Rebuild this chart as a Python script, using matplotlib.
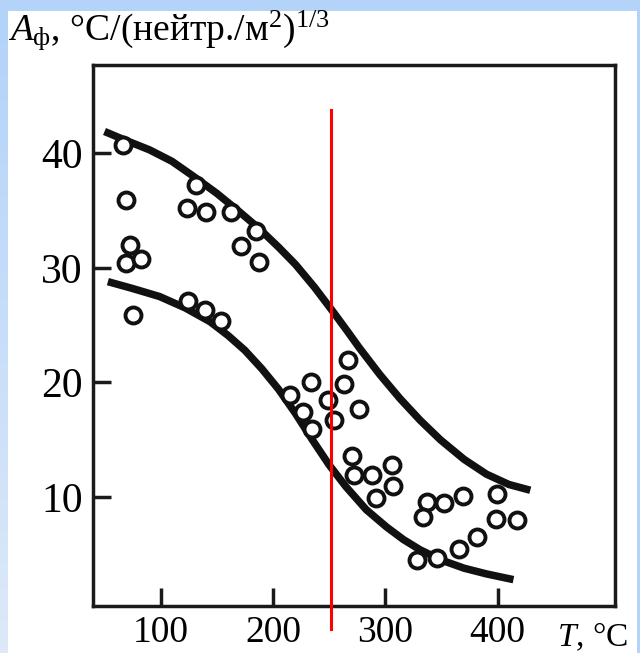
import matplotlib
matplotlib.use('Agg')
import matplotlib.pyplot as plt
import numpy as np
from matplotlib.patches import Rectangle
from matplotlib.colors import LinearSegmentedColormap

plt.rcParams['font.family'] = ['Liberation Serif', 'DejaVu Serif']
plt.rcParams['mathtext.fontset'] = 'custom'
plt.rcParams['mathtext.rm'] = 'Liberation Serif'
plt.rcParams['mathtext.it'] = 'Liberation Serif:italic'

# Data points (T, A)
point_T = [66.7, 68.8, 131.4, 123.1, 140.0, 162.3, 184.6, 171.3, 187.5, 72.7, 68.8, 82.5,
           75.6, 124.6, 139.4, 153.7,
           267.0, 233.5, 263.5, 215.1, 248.7, 276.8, 226.4, 254.5, 235.0, 270.0, 272.0,
           288.4, 305.6, 307.0, 291.4, 336.8, 333.8,
           352.5, 368.8, 399.0, 398.2, 416.9, 381.3, 365.8, 328.4, 345.6]
point_A = [40.7, 35.9, 37.2, 35.2, 34.9, 34.9, 33.2, 31.9, 30.5, 32.0, 30.4, 30.8,
           25.9, 27.1, 26.3, 25.4,
           22.0, 20.0, 19.9, 18.9, 18.5, 17.7, 17.4, 16.7, 15.9, 13.6, 11.9,
           11.9, 12.8, 11.0, 9.9, 9.6, 8.3,
           9.5, 10.1, 10.3, 8.1, 8.0, 6.5, 5.5, 4.5, 4.7]

# Upper and lower boundary curves
upper_T = [50, 67, 90, 110, 129, 150, 170, 188, 205, 220, 237, 254, 266, 277, 295, 313,
           331, 349, 370, 390, 410, 429]
upper_A = [41.9, 41.2, 40.3, 39.3, 38.0, 36.5, 34.9, 33.4, 31.8, 30.3, 28.3, 26.1, 24.5,
           23.0, 20.7, 18.6, 16.7, 15.0, 13.3, 12.0, 11.1, 10.6]
lower_T = [53, 75, 99, 122, 144, 160, 175, 190, 205, 220, 235, 250, 265, 283, 301, 316,
           331, 350, 370, 390, 414]
lower_A = [28.8, 28.2, 27.5, 26.5, 25.3, 24.1, 22.8, 21.2, 19.4, 17.3, 15.0, 12.8, 10.9,
           8.9, 7.4, 6.3, 5.4, 4.5, 3.8, 3.3, 2.8]

x_ticks = [100, 200, 300, 400]
y_ticks = [10, 20, 30, 40]
red_T = 252
red_A = [-1.5, 43.8]

W, H = 640, 653
fig = plt.figure(figsize=(W / 100, H / 100), dpi=100)
fig.patch.set_facecolor('white')

# border bands
fig.add_artist(Rectangle((0, 1 - 11 / H), 1, 11 / H, transform=fig.transFigure,
                         facecolor='#b3d3f8', edgecolor='none', zorder=0))
fig.add_artist(Rectangle((637 / W, 0), 3 / W, 1, transform=fig.transFigure,
                         facecolor='#b3d3f8', edgecolor='none', zorder=0))
bax = fig.add_axes([0, 0, 8 / W, 1 - 11 / H])
grad = np.linspace(0, 1, 100).reshape(-1, 1)
cm = LinearSegmentedColormap.from_list('b', ['#dde9f9', '#b3d3f8'])
bax.imshow(grad, aspect='auto', cmap=cm, origin='lower')
bax.axis('off')

ax = fig.add_axes([92.7 / W, (H - 606) / H, (615 - 92.7) / W, (606 - 65) / H])
ax.set_facecolor('white')
ax.set_xlim(39.5, 504.4)
ax.set_ylim(0.5, 47.7)

ax.plot(upper_T, upper_A, color='#111111', lw=5.4, solid_capstyle='butt',
        solid_joinstyle='round', zorder=3)
ax.plot(lower_T, lower_A, color='#111111', lw=5.4, solid_capstyle='butt',
        solid_joinstyle='round', zorder=3)
ax.plot(point_T, point_A, 'o', ms=11.5, mfc='white', mec='#111111', mew=2.8, zorder=4)
ax.plot([red_T, red_T], red_A, color='#ff0000', lw=2.2, clip_on=False, zorder=5)

for s in ax.spines.values():
    s.set_linewidth(2.5)
    s.set_color('#1a1a1a')
ax.set_xticks(x_ticks)
ax.set_yticks(y_ticks)
ax.tick_params(direction='in', length=13, width=2.5, color='#1a1a1a')
ax.tick_params(axis='x', pad=7, labelsize=27)
ax.tick_params(axis='y', pad=7, labelsize=30)

fig.text(557 / W, 7 / H, r'$T$, °C', fontsize=24, ha='left', va='baseline')
fig.text(8 / W, (H - 40) / H, r'$A_{\mathrm{ф}}$, °C/(нейтр./м$^{2}$)$^{1/3}$', fontsize=27,
         ha='left', va='baseline')

fig.savefig('out.png', dpi=100, facecolor=fig.get_facecolor())
